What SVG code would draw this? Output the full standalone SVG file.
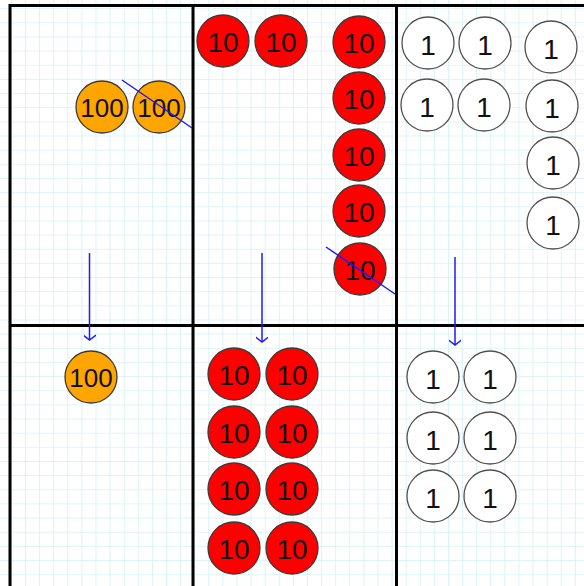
<svg xmlns="http://www.w3.org/2000/svg" width="584" height="586" viewBox="0 0 584 586">
<defs>
<pattern id="grid" x="10.9" y="8.2" width="14.1" height="14.15" patternUnits="userSpaceOnUse">
<path d="M0 0H14.1M0 0V14.15" fill="none" stroke="#d2f1f5" stroke-width="1.6"/>
</pattern>
<marker id="vhead" viewBox="-8 -6 10 12" refX="0" refY="0" markerWidth="10" markerHeight="12" markerUnits="userSpaceOnUse" orient="auto">
<path d="M-5 -6.5L0 0L-5 6.5" fill="none" stroke="#1a1aff" stroke-width="1.5"/>
</marker>
<style>
.h{fill:#ffa500;stroke:#3a3a3a;stroke-width:1.3}
.t{fill:#ff0000;stroke:#3a3a3a;stroke-width:1.3}
.o{fill:#ffffff;stroke:#505050;stroke-width:1.3}
text{font-family:"Liberation Sans",Arial,sans-serif;fill:#111;text-anchor:middle}
.f100{font-size:26px}
.f10{font-size:28px}
.f1{font-size:28px}
.frame{stroke:#000;stroke-width:3;fill:none}
.blue{stroke:#1a1aff;stroke-width:1.5;fill:none}
</style>
</defs>
<rect width="584" height="586" fill="#ffffff"/>
<rect width="584" height="586" fill="url(#grid)"/>
<g id="frame">
<path class="frame" d="M10 5.5H584M10 4V586M193 4V586M396.5 4V586M10 325.5H584"/>
</g>
<g id="n100a"><circle class="h" cx="102" cy="107" r="26"/><text class="f100" x="102" y="117">100</text></g>
<g id="n100b"><circle class="h" cx="159" cy="107" r="26"/><text class="f100" x="159" y="117">100</text></g>
<g id="t1"><circle class="t" cx="223" cy="41" r="26"/><text class="f10" x="223" y="52">10</text></g>
<g id="t2"><circle class="t" cx="281" cy="41" r="26"/><text class="f10" x="281" y="52">10</text></g>
<g id="t3"><circle class="t" cx="359" cy="42" r="26"/><text class="f10" x="359" y="53">10</text></g>
<g id="t4"><circle class="t" cx="359" cy="98" r="26"/><text class="f10" x="359" y="109">10</text></g>
<g id="t5"><circle class="t" cx="359" cy="155" r="26"/><text class="f10" x="359" y="166">10</text></g>
<g id="t6"><circle class="t" cx="359" cy="211" r="26"/><text class="f10" x="359" y="222">10</text></g>
<g id="t7"><circle class="t" cx="360" cy="269" r="26"/><text class="f10" x="360" y="280">10</text></g>
<g id="o1"><circle class="o" cx="428" cy="43" r="26"/><text class="f1" x="428" y="55">1</text></g>
<g id="o2"><circle class="o" cx="485" cy="43" r="26"/><text class="f1" x="485" y="55">1</text></g>
<g id="o3"><circle class="o" cx="551" cy="47" r="26"/><text class="f1" x="551" y="59">1</text></g>
<g id="o4"><circle class="o" cx="427" cy="105" r="26"/><text class="f1" x="427" y="117">1</text></g>
<g id="o5"><circle class="o" cx="484" cy="105" r="26"/><text class="f1" x="484" y="117">1</text></g>
<g id="o6"><circle class="o" cx="552" cy="106" r="26"/><text class="f1" x="552" y="118">1</text></g>
<g id="o7"><circle class="o" cx="553" cy="163" r="26"/><text class="f1" x="553" y="175">1</text></g>
<g id="o8"><circle class="o" cx="553" cy="223" r="26"/><text class="f1" x="553" y="235">1</text></g>
<g id="n100c"><circle class="h" cx="91" cy="377" r="26"/><text class="f100" x="91" y="387">100</text></g>
<g id="b1"><circle class="t" cx="234" cy="374" r="26"/><text class="f10" x="234" y="385">10</text></g>
<g id="b2"><circle class="t" cx="292" cy="374" r="26"/><text class="f10" x="292" y="385">10</text></g>
<g id="b3"><circle class="t" cx="234" cy="432" r="26"/><text class="f10" x="234" y="443">10</text></g>
<g id="b4"><circle class="t" cx="292" cy="432" r="26"/><text class="f10" x="292" y="443">10</text></g>
<g id="b5"><circle class="t" cx="234" cy="489" r="26"/><text class="f10" x="234" y="500">10</text></g>
<g id="b6"><circle class="t" cx="292" cy="489" r="26"/><text class="f10" x="292" y="500">10</text></g>
<g id="b7"><circle class="t" cx="234" cy="548" r="26"/><text class="f10" x="234" y="559">10</text></g>
<g id="b8"><circle class="t" cx="292" cy="548" r="26"/><text class="f10" x="292" y="559">10</text></g>
<g id="c1"><circle class="o" cx="433" cy="377" r="26"/><text class="f1" x="433" y="389">1</text></g>
<g id="c2"><circle class="o" cx="490" cy="377" r="26"/><text class="f1" x="490" y="389">1</text></g>
<g id="c3"><circle class="o" cx="433" cy="438" r="26"/><text class="f1" x="433" y="450">1</text></g>
<g id="c4"><circle class="o" cx="490" cy="438" r="26"/><text class="f1" x="490" y="450">1</text></g>
<g id="c5"><circle class="o" cx="433" cy="496" r="26"/><text class="f1" x="433" y="508">1</text></g>
<g id="c6"><circle class="o" cx="490" cy="496" r="26"/><text class="f1" x="490" y="508">1</text></g>
<g id="connectors">
<line class="blue" x1="122" y1="80" x2="192" y2="128"/>
<line class="blue" x1="326" y1="247" x2="395" y2="294"/>
<line class="blue" x1="89.5" y1="253" x2="89.5" y2="340" marker-end="url(#vhead)"/>
<line class="blue" x1="262" y1="253" x2="262" y2="342" marker-end="url(#vhead)"/>
<line class="blue" x1="455" y1="257" x2="455" y2="345" marker-end="url(#vhead)"/>
</g>
</svg>
